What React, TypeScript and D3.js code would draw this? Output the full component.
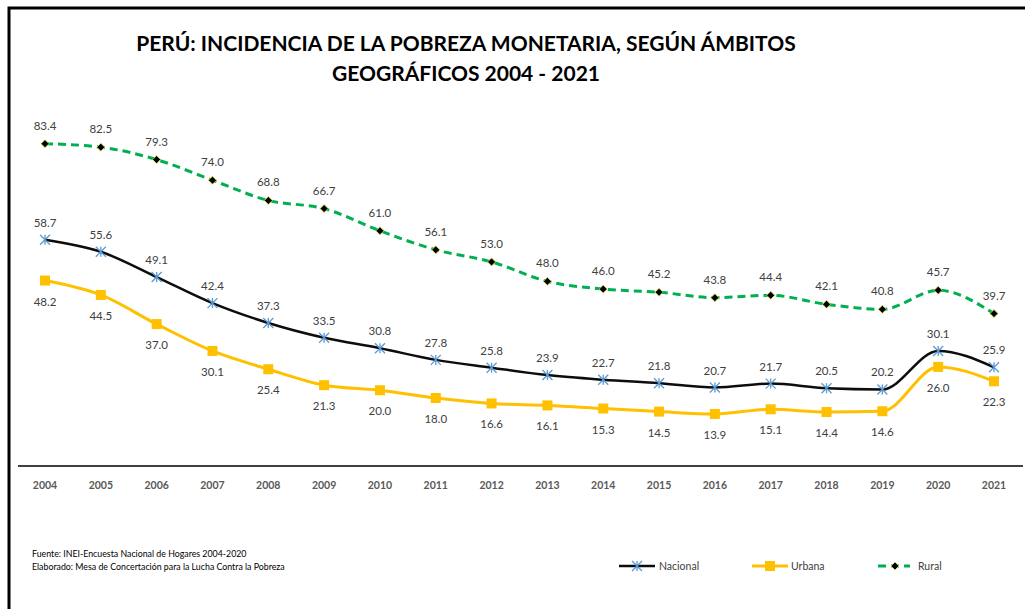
import React, { useRef, useEffect } from "react";
import * as d3 from "d3";

const years = ["2004", "2005", "2006", "2007", "2008", "2009", "2010", "2011", "2012", "2013", "2014", "2015", "2016", "2017", "2018", "2019", "2020", "2021"];
const nacional = [58.7, 55.6, 49.1, 42.4, 37.3, 33.5, 30.8, 27.8, 25.8, 23.9, 22.7, 21.8, 20.7, 21.7, 20.5, 20.2, 30.1, 25.9];
const urbana = [48.2, 44.5, 37.0, 30.1, 25.4, 21.3, 20.0, 18.0, 16.6, 16.1, 15.3, 14.5, 13.9, 15.1, 14.4, 14.6, 26.0, 22.3];
const rural = [83.4, 82.5, 79.3, 74.0, 68.8, 66.7, 61.0, 56.1, 53.0, 48.0, 46.0, 45.2, 43.8, 44.4, 42.1, 40.8, 45.7, 39.7];

const title = ["PERÚ: INCIDENCIA DE LA POBREZA MONETARIA, SEGÚN ÁMBITOS", "GEOGRÁFICOS 2004 - 2021"];
const notes = ["Fuente: INEI-Encuesta Nacional de Hogares 2004-2020", "Elaborado: Mesa de Concertación para la Lucha Contra la Pobreza"];

const W = 1025;
const H = 609;
const FONT = "Lato, 'Open Sans', sans-serif";
const TXT = "#404040";

export default function App() {
  const svgRef = useRef<SVGSVGElement>(null);

  useEffect(() => {
    const svg = d3.select(svgRef.current);
    svg.selectAll("*").remove();

    svg.append("rect").attr("width", W).attr("height", H).attr("fill", "#fff");

    // frame (top + left visible)
    svg.append("path")
      .attr("d", `M9,${H} L9,8 L${W},8`)
      .attr("fill", "none")
      .attr("stroke", "#000")
      .attr("stroke-width", 3);

    // title
    svg.append("g")
      .selectAll("text")
      .data(title)
      .join("text")
      .attr("x", 466)
      .attr("y", (_, i) => 51 + i * 30)
      .attr("text-anchor", "middle")
      .attr("font-family", FONT)
      .attr("font-weight", "bold")
      .attr("font-size", 21)
      .attr("fill", "#000")
      .text((d) => d);

    const x = d3.scalePoint().domain(years).range([45, 994]);
    const y = d3.scaleLinear().domain([0, 90]).range([468, 118]);

    // x axis line
    svg.append("line")
      .attr("x1", 18).attr("x2", 1023)
      .attr("y1", 466).attr("y2", 466)
      .attr("stroke", "#404040")
      .attr("stroke-width", 2.2);

    svg.append("g")
      .selectAll("text")
      .data(years)
      .join("text")
      .attr("x", (d) => x(d)!)
      .attr("y", 489)
      .attr("text-anchor", "middle")
      .attr("font-family", FONT)
      .attr("font-weight", "bold")
      .attr("font-size", 10.5)
      .attr("fill", "#595959")
      .text((d) => d);

    const line = (vals: number[]) =>
      d3.line<number>()
        .x((_, i) => x(years[i])!)
        .y((d) => y(d))
        .curve(d3.curveMonotoneX)(vals);

    // Rural
    svg.append("path")
      .attr("d", line(rural))
      .attr("fill", "none")
      .attr("stroke", "#00B050")
      .attr("stroke-width", 3)
      .attr("stroke-dasharray", "8,5");
    // Nacional
    svg.append("path")
      .attr("d", line(nacional))
      .attr("fill", "none")
      .attr("stroke", "#0d0d0d")
      .attr("stroke-width", 2.5);
    // Urbana
    svg.append("path")
      .attr("d", line(urbana))
      .attr("fill", "none")
      .attr("stroke", "#FFC000")
      .attr("stroke-width", 3);

    const star = (g: any, cx: number, cy: number) => {
      const r = 5;
      g.append("path")
        .attr("d", `M${cx - r},${cy - r}L${cx + r},${cy + r}M${cx - r},${cy + r}L${cx + r},${cy - r}M${cx},${cy - r}L${cx},${cy + r}`)
        .attr("stroke", "#5B9BD5")
        .attr("stroke-width", 1.3)
        .attr("fill", "none");
    };
    const square = (g: any, cx: number, cy: number) => {
      g.append("rect")
        .attr("x", cx - 5).attr("y", cy - 5)
        .attr("width", 10).attr("height", 10)
        .attr("fill", "#FFC000");
    };
    const diamond = (g: any, cx: number, cy: number) => {
      const r = 4;
      g.append("path")
        .attr("d", `M${cx},${cy - r}L${cx + r},${cy}L${cx},${cy + r}L${cx - r},${cy}Z`)
        .attr("fill", "#000")
        .attr("stroke", "#d8e04a")
        .attr("stroke-width", 0.8);
    };

    const markers = svg.append("g");
    rural.forEach((v, i) => diamond(markers, x(years[i])!, y(v)));
    nacional.forEach((v, i) => star(markers, x(years[i])!, y(v)));
    urbana.forEach((v, i) => square(markers, x(years[i])!, y(v)));

    const labels = (vals: number[], dy: number) =>
      svg.append("g")
        .selectAll("text")
        .data(vals)
        .join("text")
        .attr("x", (_, i) => x(years[i])!)
        .attr("y", (d) => y(d) + dy)
        .attr("text-anchor", "middle")
        .attr("font-family", FONT)
        .attr("font-size", 11.5)
        .attr("fill", TXT)
        .text((d) => d.toFixed(1));
    labels(rural, -14);
    labels(nacional, -13);
    labels(urbana, 25);

    // footnotes
    svg.append("g")
      .selectAll("text")
      .data(notes)
      .join("text")
      .attr("x", 32)
      .attr("y", (_, i) => 557 + i * 13)
      .attr("font-family", FONT)
      .attr("font-size", 8.8)
      .attr("fill", "#000")
      .text((d) => d);

    // legend
    const legend = [
      { name: "Nacional", x0: 619, tx: 659, kind: "n" },
      { name: "Urbana", x0: 752, tx: 791, kind: "u" },
      { name: "Rural", x0: 878, tx: 918, kind: "r" },
    ];
    const ly = 566;
    const lg = svg.append("g");
    legend.forEach((l) => {
      const ln = lg.append("line")
        .attr("x1", l.x0).attr("x2", l.x0 + 36)
        .attr("y1", ly).attr("y2", ly)
        .attr("stroke-width", l.kind === "n" ? 2.5 : 3);
      if (l.kind === "n") {
        ln.attr("stroke", "#0d0d0d");
        star(lg, l.x0 + 18, ly);
      } else if (l.kind === "u") {
        ln.attr("stroke", "#FFC000");
        square(lg, l.x0 + 18, ly);
      } else {
        ln.attr("x2", l.x0 + 32).attr("stroke", "#00B050").attr("stroke-dasharray", "8,5");
        diamond(lg, l.x0 + 17, ly);
      }
      lg.append("text")
        .attr("x", l.tx)
        .attr("y", ly + 4)
        .attr("font-family", FONT)
        .attr("font-size", 10.5)
        .attr("fill", TXT)
        .text(l.name);
    });
  }, []);

  return (
    <svg
      ref={svgRef}
      width={W}
      height={H}
      style={{ position: "absolute", left: 0, top: 0, display: "block" }}
    />
  );
}
